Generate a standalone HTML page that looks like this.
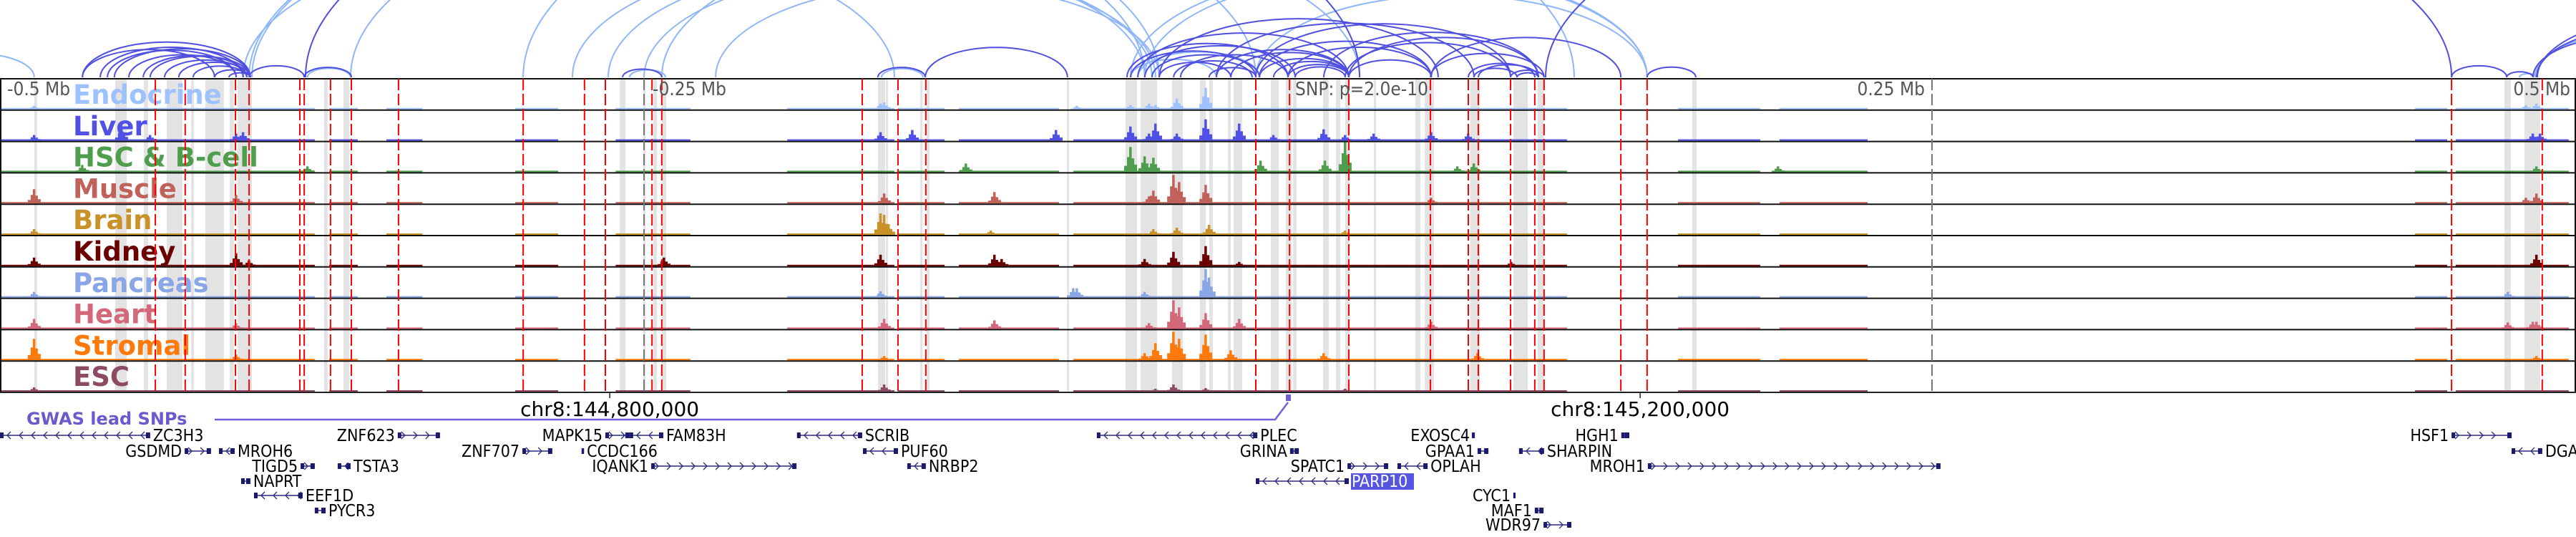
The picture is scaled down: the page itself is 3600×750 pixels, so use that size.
<!DOCTYPE html>
<html><head><meta charset="utf-8">
<style>
html,body{margin:0;padding:0;background:#fff;}
svg{display:block;}
</style></head>
<body>
<svg id="chart" xmlns="http://www.w3.org/2000/svg" width="3600" height="750" viewBox="0 0 3600 750"></svg>
<script>
// ===== data (positions in kb relative to lead SNP) =====
const trackNames = ["Endocrine","Liver","HSC & B-cell","Muscle","Brain","Kidney","Pancreas","Heart","Stromal","ESC"];
const trackColors = ["#9ec2ff","#5050e6","#4e9e4e","#c0625a","#c89228","#6b0000","#8aa6e6","#d4687a","#ff7a0a","#8c4a64"];
const redLines = [-439.7,-428.1,-408.6,-403.3,-383.6,-381.9,-371.7,-363.6,-345.3,-296.9,-273.1,-265,-246.9,-243.1,-165.3,-151.4,-140.6,-12.5,0.6,23.6,55.3,70,73.9,86.4,95.8,99.4,129.2,139.4,451.7,486.9];
const grayTicks = [-250,250];
const bands = [[-486.7,-485.6],[-455.3,-450.8],[-444.2,-442.5],[-435.3,-429.2],[-425.8,-424.7],[-420.3,-413.1],[-410.8,-409.2],[-407.8,-402.2],[-374.2,-372.8],[-366.7,-364.4],[-259.4,-257.2],[-250.3,-249.4],[-246.4,-245],[-243.1,-241.4],[-159.2,-156.4],[-156.1,-155.3],[-142.8,-141.9],[-140.3,-139.2],[-85.8,-85],[-63.1,-58.6],[-57.2,-50.8],[-45,-40.8],[-34.2,-31.9],[-30.6,-29.2],[-23.3,-22.2],[-21.1,-17.8],[-6.7,-3.6],[-0.8,1.4],[1.9,3.3],[13.6,15.8],[18.6,20.3],[22.2,23.9],[33.3,34.2],[49.4,51.4],[53.1,56.7],[70.8,74.4],[87.5,93.1],[96.9,99.2],[156.9,158.6],[472.2,474.7],[480,486.1]];
const coverage = [[-500,-377.8],[-372.2,-361.1],[-350,-336],[-300,-283.3],[-261,-232],[-194.4,-152.8],[-151.4,-133.3],[-127.8,-88.9],[-83.3,108.3],[151.4,183.3],[190.8,225],[437.5,450],[453.3,497.2]];
const peaksEndocrine = [[-486.7,5],[-61.1,6],[-53.9,8],[-51.4,6],[-43.1,15],[-31.9,30],[-158.1,8],[-156.7,10],[-81.9,5],[484.7,8],[480.6,6]];
const peaksLiver = [[-486.7,8],[-452.8,18],[-441.7,8],[-408.3,10],[-405.6,12],[-158.1,12],[-145.8,15],[-90,15],[-61.1,20],[-53.9,10],[-51.4,24],[-43.1,10],[-31.9,30],[-18.9,24],[-5.6,8],[13.9,16],[22.2,8],[33.3,10],[55.6,12],[70,10],[483.3,10],[486.1,10]];
const peaksHSC = [[-468,10],[-380.6,8],[-125,12],[-61.1,35],[-55.6,22],[-52.2,20],[-10.6,16],[14.4,16],[22.2,44],[65.8,8],[72.2,12],[190.3,8],[484.7,8]];
const peaksMuscle = [[-486.7,20],[-408.3,12],[-156.7,14],[-113.9,16],[-53.9,10],[-52.2,18],[-44.4,40],[-42.2,30],[-31.9,26],[55.6,8],[480.6,8],[484.7,14]];
const peaksBrain = [[-486.7,8],[-158.1,30],[-156.7,28],[-155,15],[-115.3,6],[-52.2,8],[-43.1,10],[-30.6,14],[22.2,6]];
const peaksKidney = [[-486.7,12],[-408.3,18],[-403.3,8],[-242.2,12],[-158.1,16],[-113.9,16],[-111.1,10],[-55.6,10],[-44.4,20],[-31.9,28],[-18.9,6],[86.7,6],[484.7,16]];
const peaksPancreas = [[-486.7,8],[-158.1,9],[-83.3,13],[-81.9,13],[-55.6,8],[-31.9,40],[-30.6,28],[473.6,8]];
const peaksHeart = [[-486.7,14],[-408.3,8],[-156.7,14],[-113.9,12],[-53.9,8],[-44.4,40],[-42.2,30],[-31.9,22],[-18.9,14],[55.6,10],[483.3,10],[484.7,10],[473.6,9]];
const peaksStromal = [[-486.7,30],[-408.3,8],[-156.7,6],[-55.6,10],[-51.4,24],[-44.4,40],[-42.2,30],[-31.9,36],[-22.2,14],[13.9,10],[73.6,10],[484.7,6]];
const peaksESC = [[-486.7,6],[-156.7,10],[-51.4,4],[-44.4,10],[-31.9,5],[22.2,4]];
const trackPeaks = [peaksEndocrine,peaksLiver,peaksHSC,peaksMuscle,peaksBrain,peaksKidney,peaksPancreas,peaksHeart,peaksStromal,peaksESC];
const arcsDark = [[-468,-402.8],[-461.1,-405.6],[-455.6,-402.8],[-450,-408.3],[-444.4,-404.2],[-441.7,-402.8],[-436.1,-404.2],[-430.6,-402.8],[-425,-404.2],[-416.7,-402.8],[-411.1,-402.8],[-468,-416.7],[-458.3,-408.3],[-403.3,-381.9],[-381.9,-363.6],[-381.4,27.8],[-258.3,-243.1],[-159.2,-140.8],[-140.8,-85.6],
 [-61.1,-12.5],[-62.5,0],[-58.3,23.6],[-55.6,2.8],[-52.8,-11.1],[-50,-22.2],[-44.4,-13.9],[-41.7,0],[-30.6,-12.5],[-27.8,23.6],[-22.2,23.6],[-11.1,23.6],[-5.6,23.6],[0,23.6],[2.8,22.2],[-11.1,55.6],[0,55.6],[23.6,55.6],[22.2,86.4],[23.6,97.2],[55.3,99.4],[55.6,129.2],[70,95.8],[73.9,97.2],[86.4,99.4],[72.2,88.9],[88.9,97.2],[13.9,97.2],[-27.8,72.2],[-50,58.3],[-12.5,86.4],[139.4,158.3],
 [451.7,473.1],[473.1,483.3],[100,451.7],[483.3,560],[484.7,580],[485,600]];
const arcsLight = [[-530,-486.7],[-380.6,-363.9],[-405.6,-152.8],[-403.3,-55.6],[-402.2,-50],[-363.9,-12.5],[-296.9,111.1],[-255.6,-241.7],[-243.1,27.8],[-157.8,-141.7],[-277.8,-55.6],[-263.9,-52.8],[-250,-51.4],[-222.2,-50],[-61.1,139.4],[-55.6,139.4],[-12.5,139.4],[-61.1,-27.8],[-58.3,-11.1],[478,484.7],[484,570]];
const geneNames = ["ZC3H3","GSDMD","MROH6","TIGD5","TSTA3","NAPRT","EEF1D","PYCR3","ZNF623","ZNF707","MAPK15","FAM83H","CCDC166","IQANK1","SCRIB","PUF60","NRBP2","PLEC","GRINA","SPATC1","OPLAH","PARP10","EXOSC4","GPAA1","HGH1","SHARPIN","MROH1","CYC1","MAF1","WDR97","HSF1","DGAT1"];
const geneSpans = [[-500,-441.7],[-428.3,-418.1],[-415,-408.9],[-383.3,-377.8],[-368.9,-363.9],[-406.4,-402.8],[-401.4,-382.5],[-377.8,-373.6],[-345.6,-329.2],[-297.2,-285.6],[-265,-255.6],[-255.6,-242.5],[-274.2,-273.3],[-247.2,-190.8],[-190.6,-165.3],[-165,-151.4],[-147.8,-140.6],[-74.2,-11.9],[0.8,4.2],[23.1,38.9],[42.5,54.2],[-12.5,23.6],[71.7,72.2],[73.6,77.8],[129.4,132.5],[89.7,99.4],[139.7,253.3],[87.5,88.3],[95.8,99.2],[99.2,110],[451.7,475],[475,486.9]];
const geneRows = [0,1,1,2,2,3,4,5,0,1,0,0,1,2,0,1,2,0,1,2,2,3,0,1,0,1,2,4,5,6,0,1];
const geneStrand = ["-","+","-","+","-","-","-","-","+","+","+","-","-","+","-","-","-","-","+","+","-","-","+","+","+","-","+","+","-","+","+","-"];
const geneLabelLeft = [0,1,0,1,0,0,0,0,1,1,1,0,0,1,0,0,0,0,1,1,0,0,1,1,1,0,1,1,1,1,1,0];
const axisLabels = ["-0.5 Mb","-0.25 Mb","SNP: p=2.0e-10","0.25 Mb","0.5 Mb"];
const axisLabelPos = [-500,-250,0,250,500];
const chromTicks = ["chr8:144,800,000","chr8:145,200,000"];
const chromTickPos = [-263.3,136.7];
const leadSnp = 0;

// ===== scales =====
const W=3600, TOP=110, ROWH=43.8, NT=trackNames.length, BOT=TOP+ROWH*NT;
const x = kb => 1800 + kb*3.6;
const ySig = (row,v) => TOP+ROWH*(row+1)-1 - v;
const NS="http://www.w3.org/2000/svg";
const svg=document.getElementById('chart');
function mk(tag, attrs, parent){const e=document.createElementNS(NS,tag);for(const k in attrs)e.setAttribute(k,attrs[k]);(parent||svg).appendChild(e);return e;}

// gray highlight bands
const gBands=mk('g',{});


bands.forEach(b=>{const r=mk('rect',{x:x(b[0]),y:TOP,width:Math.max(2,x(b[1])-x(b[0])),height:BOT-TOP,fill:'#e3e3e3'},gBands);

});

// signal tracks
for(let t=0;t<NT;t++){
  const g=mk('g',{fill:trackColors[t]});
  
  
  coverage.forEach(c=>{mk('rect',{x:x(c[0]),y:ySig(t,2),width:x(c[1])-x(c[0]),height:2},g);});
  trackPeaks[t].forEach(p=>{const cx=x(p[0]),h=p[1],b=ySig(t,0);
    const pts=[[cx-9,b],[cx-9,b-h*0.25],[cx-5,b-h*0.25],[cx-5,b-h*0.6],[cx-2,b-h*0.6],[cx-2,b-h],[cx+1.5,b-h],[cx+1.5,b-h*0.55],[cx+5,b-h*0.55],[cx+5,b-h*0.3],[cx+9,b-h*0.3],[cx+9,b]];
    const pk=mk('polygon',{points:pts.map(q=>q.join(',')).join(' ')},g);
    
    });
  const lab=mk('text',{x:102,y:TOP+ROWH*t+35,'font-family':'DejaVu Sans, Liberation Sans, sans-serif','font-weight':'bold','font-size':37,fill:trackColors[t]});
  lab.textContent=trackNames[t];
  
  
}
// row separators
for(let i=0;i<=NT;i++){const l=mk('line',{x1:0,x2:W,y1:TOP+ROWH*i,y2:TOP+ROWH*i,stroke:'#111','stroke-width':2});

}
mk('line',{x1:1,x2:1,y1:TOP,y2:BOT,stroke:'#111','stroke-width':2});
mk('line',{x1:W-1,x2:W-1,y1:TOP,y2:BOT,stroke:'#111','stroke-width':2});

// gray tick lines
grayTicks.forEach(k=>{const l=mk('line',{x1:x(k),x2:x(k),y1:TOP,y2:BOT,stroke:'#777','stroke-width':2,'stroke-dasharray':'16 5'});

});
// red SNP lines
redLines.forEach(k=>{const l=mk('line',{x1:x(k),x2:x(k),y1:TOP,y2:BOT,stroke:'#ff0000','stroke-width':2,'stroke-dasharray':'16 5'});

});

// axis labels
axisLabels.forEach((s,i)=>{const k=axisLabelPos[i];let anchor='middle',xx=x(k)+10;
 if(i===0){anchor='start';xx=10;} if(i===1){anchor='start';xx=x(k)+12;} if(i===2){anchor='start';xx=x(k)+10;} if(i===3){anchor='end';xx=x(k)-10;} if(i===4){anchor='end';xx=W-8;}
 const t=mk('text',{x:xx,y:133,'text-anchor':anchor,'font-family':'DejaVu Sans Condensed, DejaVu Sans, sans-serif','font-size':26,fill:'#555'});
 t.textContent=s;
 
 });

// arcs
const gArcClip=mk('clipPath',{id:'arcclip'});mk('rect',{x:0,y:0,width:W,height:109},gArcClip);
const arcG=mk('g',{'clip-path':'url(#arcclip)'});


arcsLight.forEach(a=>{const x1=x(a[0]),x2=x(a[1]);const r=(x2-x1)/2,h=r*0.42;
 const p=mk('path',{d:`M${x1},108 A${r},${h} 0 0 1 ${x2},108`,fill:'none',stroke:'#8fb6f7','stroke-width':2},arcG);
 
 });
arcsDark.forEach(a=>{const x1=x(a[0]),x2=x(a[1]);const r=(x2-x1)/2,h=r*0.42;
 const p=mk('path',{d:`M${x1},108 A${r},${h} 0 0 1 ${x2},108`,fill:'none',stroke:'#4f4fe0','stroke-width':2},arcG);
 
 });

// chromosome axis
mk('line',{x1:0,x2:W,y1:BOT,y2:BOT,stroke:'#222','stroke-width':2});
chromTicks.forEach((s,i)=>{const xx=x(chromTickPos[i]);
 mk('line',{x1:xx,x2:xx,y1:BOT,y2:BOT+8,stroke:'#222','stroke-width':1.5});
 const t=mk('text',{x:xx,y:581,'text-anchor':'middle','font-family':'DejaVu Sans, sans-serif','font-size':28,fill:'#000'});
 t.textContent=s;
 
 });

// GWAS lead SNPs
const gw=mk('text',{x:37,y:593,'font-family':'DejaVu Sans, sans-serif','font-weight':'bold','font-size':24,fill:'#6a5acd'});
gw.textContent='GWAS lead SNPs';


const sx=x(leadSnp);
const gl=mk('polyline',{points:`300,586 ${sx-18},586 ${sx},562`,fill:'none',stroke:'#7060d8','stroke-width':2.5});


const sq=mk('rect',{x:sx-3,y:551,width:7,height:9,fill:'#7060d8'});



// genes
const rowY=[608,630,651,672,692,713,733];
geneNames.forEach((n,i)=>{
 const g=mk('g',{});
 
 
 const x1=x(geneSpans[i][0]),x2=x(geneSpans[i][1]),y=rowY[geneRows[i]];
 mk('line',{x1:x1,x2:x2,y1:y,y2:y,stroke:'#2a2a80','stroke-width':1.5},g);
 const dir=geneStrand[i]==='+'?1:-1;
 for(let cx=x1+10;cx<x2-6;cx+=17){mk('polyline',{points:`${cx-dir*5},${y-5} ${cx},${y} ${cx-dir*5},${y+5}`,fill:'none',stroke:'#2a2a80','stroke-width':1.3},g);}
 mk('rect',{x:x1,y:y-4,width:Math.max(3,Math.min(5,x2-x1)),height:8,fill:'#1a1a6e'},g);
 mk('rect',{x:x2-Math.max(3,Math.min(6,x2-x1)),y:y-4,width:Math.max(3,Math.min(6,x2-x1)),height:8,fill:'#1a1a6e'},g);
 const left=geneLabelLeft[i]===1;
 const tx=left?x1-4:x2+4;
 if(n==='PARP10'){mk('rect',{x:tx-1,y:y-11,width:88,height:23,fill:'#5555e0'},g);}
 const t=mk('text',{x:tx,y:y+8,'text-anchor':left?'end':'start','font-family':'DejaVu Sans Condensed, DejaVu Sans, sans-serif','font-size':23,fill:n==='PARP10'?'#fff':'#000'},g);
 t.textContent=n;
});
</script>
</body></html>
